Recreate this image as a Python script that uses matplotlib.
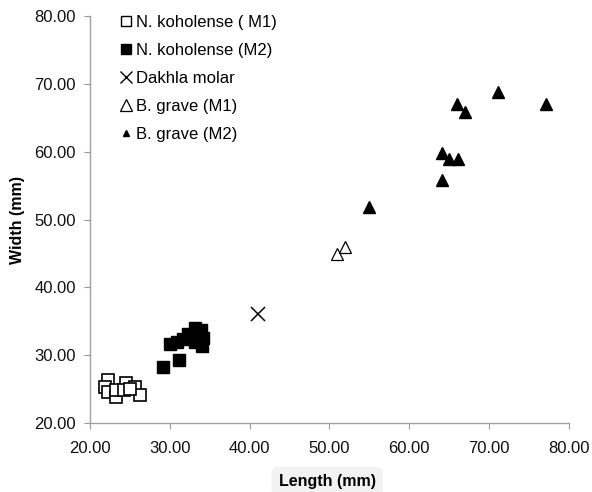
import matplotlib
matplotlib.use("Agg")
import matplotlib.pyplot as plt
from matplotlib.lines import Line2D

plt.rcParams['font.family'] = ['Liberation Sans', 'DejaVu Sans']

# N. koholense (M1)
nk_m1_len = [22.3, 21.9, 22.2, 23.3, 23.2, 24.5, 24.3, 25.6, 26.3, 25.0]
nk_m1_wid = [26.3, 25.4, 24.6, 23.9, 24.9, 25.9, 24.9, 25.4, 24.2, 25.1]
# N. koholense (M2)
nk_m2_len = [29.1, 31.1, 30.0, 33.2, 33.9, 32.3, 31.7, 34.0, 33.2, 30.9, 34.1]
nk_m2_wid = [28.3, 29.3, 31.6, 34.0, 33.7, 33.2, 32.4, 31.3, 32.0, 32.0, 32.5]
# Dakhla molar
dk_len = [41.0]
dk_wid = [36.1]
# B. grave (M1)
bg_m1_len = [51.0, 52.0]
bg_m1_wid = [45.0, 45.9]
# B. grave (M2)
bg_m2_len = [55.0, 64.1, 64.1, 65.0, 66.1, 66.0, 67.0, 71.1, 77.1]
bg_m2_wid = [51.9, 55.8, 59.9, 58.9, 58.9, 67.0, 65.9, 68.9, 67.0]

labels = ["N. koholense ( M1)", "N. koholense (M2)", "Dakhla molar",
          "B. grave (M1)", "B. grave (M2)"]
xticks = [20, 30, 40, 50, 60, 70, 80]
yticks = [20, 30, 40, 50, 60, 70, 80]

fig = plt.figure(figsize=(5.92, 4.92), dpi=100)
ax = fig.add_axes([0.152, 0.140, 0.809, 0.827])

ax.plot(nk_m1_len, nk_m1_wid, ls='none', marker='s', ms=9, mfc='white', mec='black', mew=1.2)
ax.plot(nk_m2_len, nk_m2_wid, ls='none', marker='s', ms=9, mfc='black', mec='black')
ax.plot(dk_len, dk_wid, ls='none', marker='x', ms=10, mec='black', mew=1.1)
ax.plot(bg_m1_len, bg_m1_wid, ls='none', marker='^', ms=8, mfc='white', mec='black', mew=0.9)
ax.plot(bg_m2_len, bg_m2_wid, ls='none', marker='^', ms=8, mfc='black', mec='black')

ax.set_xlim(20, 80)
ax.set_ylim(20, 80)
ax.set_xticks(xticks)
ax.set_yticks(yticks)
ax.set_xticklabels([f"{v:.2f}" for v in xticks])
ax.set_yticklabels([f"{v:.2f}" for v in yticks])
ax.tick_params(axis='both', direction='out', length=4, color='#999999', labelsize=12, labelcolor='#111111')
ax.tick_params(axis='x', pad=9)
ax.tick_params(axis='y', pad=6)
for s in ['top', 'right']:
    ax.spines[s].set_visible(False)
for s in ['left', 'bottom']:
    ax.spines[s].set_color('#a0a0a0')
    ax.spines[s].set_linewidth(1.0)

ax.set_xlabel("Length (mm)", fontsize=11.5, fontweight='bold',
              bbox=dict(boxstyle='round,pad=0.45', fc='#f2f2f2', ec='none'))
ax.xaxis.set_label_coords(0.495, -0.125)
ax.set_ylabel("Width (mm)", fontsize=11.5, fontweight='bold')
ax.yaxis.set_label_coords(-0.135, 0.5)

handles = [
    Line2D([], [], ls='none', marker='s', ms=7, mfc='white', mec='black', mew=1.0),
    Line2D([], [], ls='none', marker='s', ms=7, mfc='black', mec='black'),
    Line2D([], [], ls='none', marker='x', ms=8, mec='black', mew=1.0),
    Line2D([], [], ls='none', marker='^', ms=8, mfc='white', mec='black', mew=0.9),
    Line2D([], [], ls='none', marker='^', ms=5, mfc='black', mec='black'),
]
ax.legend(handles, labels, loc='upper left', bbox_to_anchor=(0.184, 0.993),
          bbox_transform=fig.transFigure, frameon=False, fontsize=12,
          handlelength=0.7, handletextpad=0.2, labelspacing=0.78, borderpad=0.2)

fig.savefig("out.png", dpi=100)
